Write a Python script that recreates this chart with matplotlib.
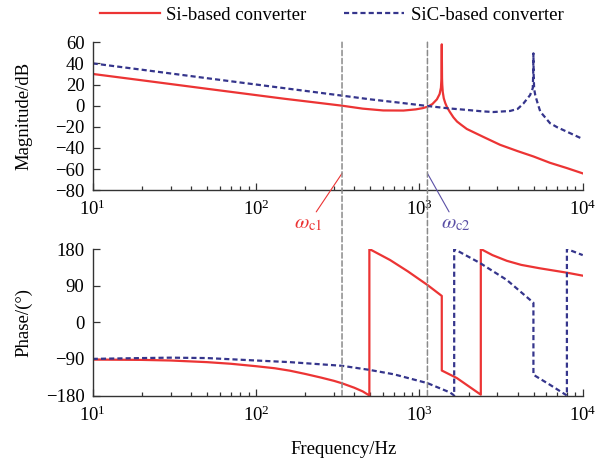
import matplotlib
matplotlib.use("Agg")
import matplotlib.pyplot as plt
from matplotlib.patches import ConnectionPatch

plt.rcParams['font.family'] = ['Liberation Serif', 'DejaVu Serif']
plt.rcParams['mathtext.fontset'] = 'stix'
plt.rcParams['font.size'] = 13

# === Data ===
# Si-based converter, magnitude
si_mag_f = [10, 20, 50, 100, 150, 200, 336, 450, 600, 800, 950, 1050, 1120, 1200,
            1280, 1330, 1355, 1365, 1371, 1376, 1380, 1390, 1410, 1440, 1472, 1530,
            1615, 1700, 1800, 1950, 2500, 3120, 4000, 4990, 6300, 8000, 10000]
si_mag = [30, 24, 16, 10, 6.5, 4.2, 0, -2.8, -4.5, -4.6, -3.5, -2.3, -1, 1.5,
          6, 11, 17, 26, 58, 26, 20, 13, 7, 2.5, -1, -5.5,
          -11, -15, -18, -22, -30, -37, -43, -48, -54, -59, -64]

# SiC-based converter, magnitude
sic_mag_f = [10, 20, 50, 100, 200, 336, 500, 760, 1120, 1500, 1950, 2400, 2840,
             3590, 4000, 4330, 4760, 4945, 4975, 4990, 5005, 5040, 5120, 5300,
             5500, 6310, 7000, 8000, 10000]
sic_mag = [40, 34, 26, 20, 14, 9.5, 6, 2.8, -0.3, -2.5, -4, -5.3, -6,
           -5, -3, 2, 10, 16.6, 30, 49.5, 30, 16, 10, 2,
           -5.7, -16.6, -20.5, -24.6, -31.5]

# Si-based converter, phase (repeated frequencies = wrap / jump)
si_ph_f = [10, 20, 30, 50, 70, 100, 130, 161, 200, 250, 300, 336, 400, 450, 494,
           494, 661, 850, 1120, 1371, 1371, 1694, 2377, 2377, 2800, 3428, 4200,
           5460, 8000, 10000]
si_ph = [-91.7, -92.5, -94, -98, -102, -108, -113, -119, -127, -136, -144, -150,
         -161, -170, -180, 180, 153, 125, 91.6, 64.7, -118.6, -137, -178, 180,
         165, 151, 141, 132.6, 121.8, 114.5]

# SiC-based converter, phase
sic_ph_f = [10, 20, 30, 50, 100, 161, 336, 494, 700, 1120, 1542, 1633, 1633, 2340,
            3428, 4990, 4990, 6300, 8000, 8000, 10000]
sic_ph = [-90, -88, -87, -88, -94, -98, -107, -117, -128, -149.6, -172.6, -180, 180,
          146, 104, 48, -129, -153.7, -180, 180, 165]

# crossover frequencies
wc1 = 336
wc2 = 1120

red = '#ec3434'
blue = '#35358c'
blue_txt = '#5b50a6'

fig = plt.figure(figsize=(6.1, 4.67), dpi=100)
ax1 = fig.add_axes([0.152, 0.5925, 0.8033, 0.3171])
ax2 = fig.add_axes([0.152, 0.1531, 0.8033, 0.3137])

ax1.plot(si_mag_f, si_mag, color=red, lw=1.6, label='Si-based converter')
ax1.plot(sic_mag_f, sic_mag, color=blue, lw=1.6, ls=(0, (2.3, 1.4)),
         label='SiC-based converter')
ax2.plot(si_ph_f, si_ph, color=red, lw=1.6)
ax2.plot(sic_ph_f, sic_ph, color=blue, lw=1.6, ls=(0, (2.3, 1.4)))

for ax in (ax1, ax2):
    ax.set_xscale('log')
    ax.set_xlim(10, 1e4)
    ax.spines['top'].set_visible(False)
    ax.spines['right'].set_visible(False)
    for s in ('left', 'bottom'):
        ax.spines[s].set_linewidth(1.0)
        ax.spines[s].set_color('#333333')
    ax.tick_params(which='major', direction='in', length=5, width=0.9,
                   color='#333333', labelsize=13.5)
    ax.tick_params(which='minor', direction='in', length=3, width=0.9,
                   color='#333333')
    ax.tick_params(axis='y', which='minor', left=False)
    ax.tick_params(axis='x', pad=7)
    ax.tick_params(axis='y', pad=6)

ax1.set_ylim(-80, 60)
ax1.set_yticks(range(-80, 61, 20))
ax2.set_ylim(-180, 180)
ax2.set_yticks([-180, -90, 0, 90, 180])

ax1.set_ylabel('Magnitude/dB', fontsize=13.5)
ax2.set_ylabel('Phase/(°)', fontsize=13.5)
ax1.yaxis.set_label_coords(-0.122, 0.5)
ax2.yaxis.set_label_coords(-0.122, 0.5)
ax2.set_xlabel('Frequency/Hz', fontsize=13.5)
ax2.xaxis.set_label_coords(0.513, -0.31)

# dashed crossover lines through both panels
for f in (wc1, wc2):
    con = ConnectionPatch(xyA=(f, 60), coordsA=ax1.transData,
                          xyB=(f, -180), coordsB=ax2.transData,
                          color='#8a8a8a', lw=1.1, ls=(0, (3.5, 1.8)))
    fig.add_artist(con)

ax1.annotate(r'$\omega_{\rm c1}$', xy=(wc1, -64), xytext=(208, -112),
             color=red, ha='center', va='center', fontsize=15,
             annotation_clip=False,
             arrowprops=dict(arrowstyle='-', color=red, lw=0.8,
                             shrinkA=0, shrinkB=0))
ax1.annotate(r'$\omega_{\rm c2}$', xy=(wc2, -64), xytext=(1675, -112),
             color=blue_txt, ha='center', va='center', fontsize=15,
             annotation_clip=False,
             arrowprops=dict(arrowstyle='-', color=blue_txt, lw=0.8,
                             shrinkA=0, shrinkB=0))

fig.legend(loc='center', bbox_to_anchor=(0.5434, 0.968), ncol=2, frameon=False,
           handlelength=3.2, handletextpad=0.35, columnspacing=2.0, fontsize=13.5)

fig.savefig('out.png', dpi=100)
